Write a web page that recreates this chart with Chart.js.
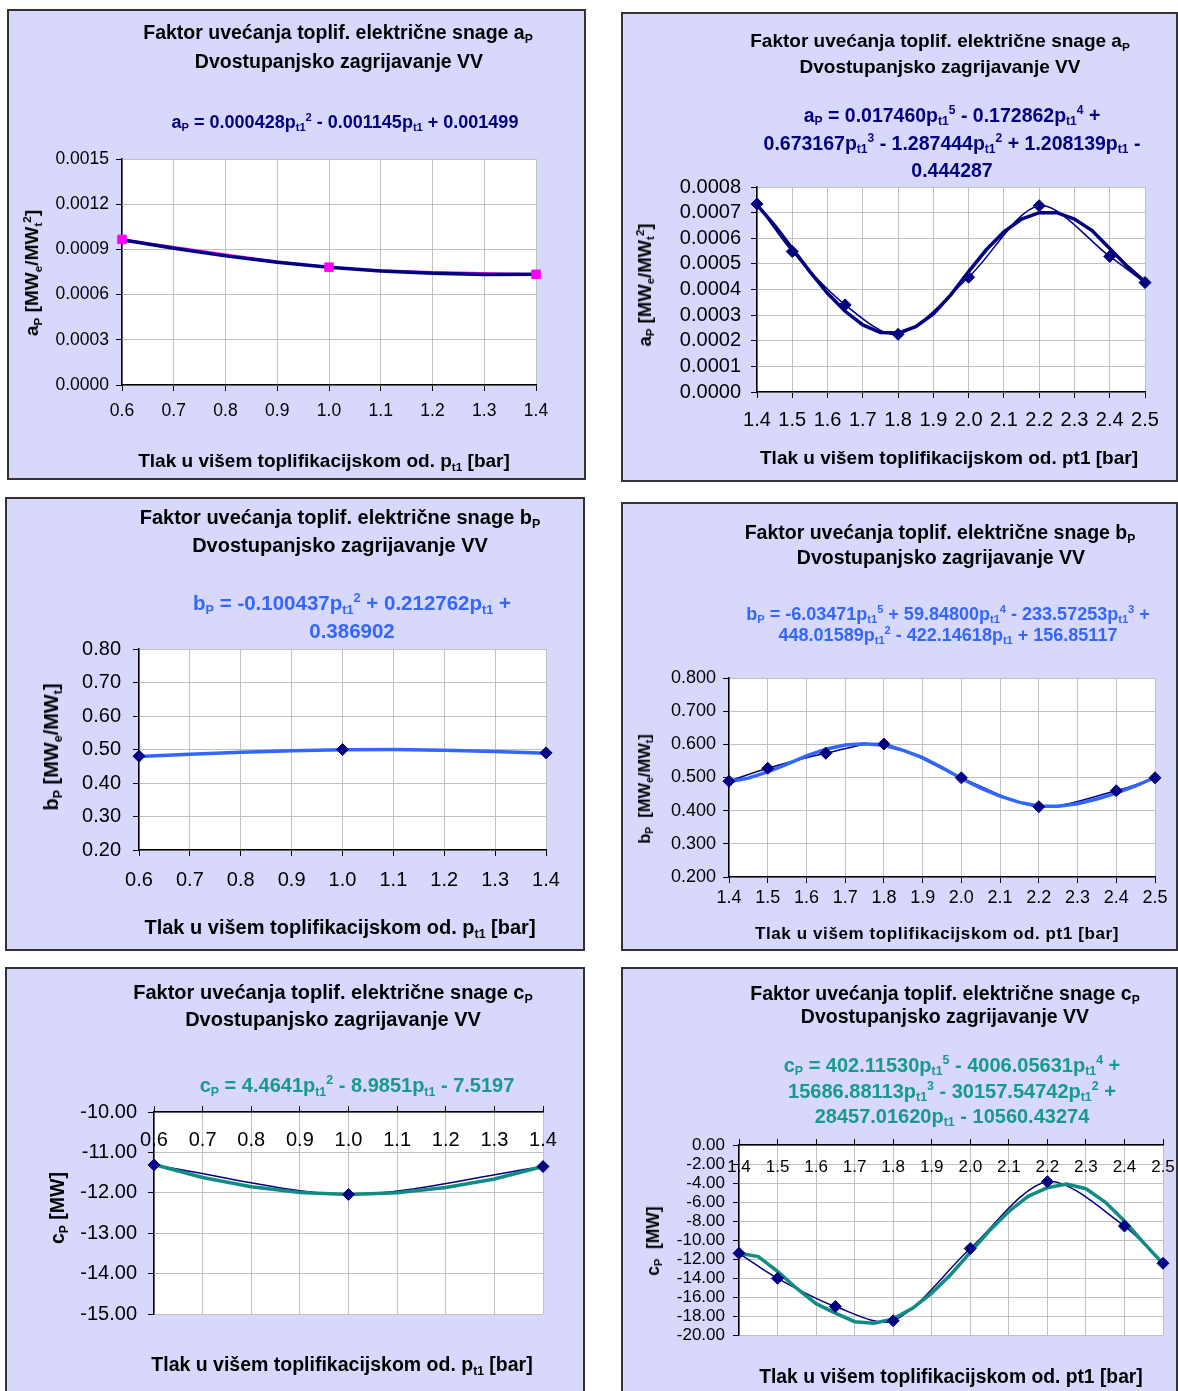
<!DOCTYPE html>
<html>
<head>
<meta charset="utf-8">
<script src="https://cdn.jsdelivr.net/npm/chart.js@4.4.1/dist/chart.umd.min.js"></script>
<style>
    body { margin: 0; width: 1178px; height: 1391px; background: #fff; position: relative; overflow: hidden; font-family: "Liberation Sans", Arial, sans-serif; }
    .panel { position: absolute; box-sizing: border-box; background: #d8d8fc; border: 2px solid #333; }
    canvas { position: absolute; z-index: 1; }
    .t { position: absolute; transform: translate(-50%, -50%); white-space: nowrap; font-weight: bold; font-size: 19px; color: #000; text-align: center; line-height: 28px; z-index: 2; }
    .ylab { transform: translate(-50%, -50%) rotate(-90deg); }
    sub, sup { font-size: 0.62em; line-height: 0; }
    sub { vertical-align: -0.3em; }
    sup { vertical-align: 0.62em; }
    .navy { color: #000080; }
    .blue { color: #3366ff; }
    .teal { color: #159a8c; }
</style>
</head>
<body>
<div class="panel" style="left:7px;top:9px;width:579px;height:471px"></div>
<div class="panel" style="left:621px;top:12px;width:557px;height:470px"></div>
<div class="panel" style="left:5px;top:497px;width:580px;height:454px"></div>
<div class="panel" style="left:621px;top:502px;width:557px;height:449px"></div>
<div class="panel" style="left:5px;top:967px;width:580px;height:430px"></div>
<div class="panel" style="left:621px;top:967px;width:557px;height:430px"></div>

<canvas id="c1"></canvas>
<canvas id="c2"></canvas>
<canvas id="c3"></canvas>
<canvas id="c4"></canvas>
<canvas id="c5"></canvas>
<canvas id="c6"></canvas>

<!-- panel 1 -->
<div class="t" style="left:338px;top:32px;font-size:19.5px">Faktor uvećanja toplif. električne snage a<sub>P</sub></div>
<div class="t" style="left:339px;top:61px;font-size:19.5px">Dvostupanjsko zagrijavanje VV</div>
<div class="t navy" style="left:345px;top:122px;font-size:18px">a<sub>P</sub> = 0.000428p<sub>t1</sub><sup>2</sup> - 0.001145p<sub>t1</sub> + 0.001499</div>
<div class="t" style="left:324px;top:461px">Tlak u višem toplifikacijskom od. p<sub>t1</sub> [bar]</div>
<div class="t ylab" style="left:32px;top:273px">a<sub>P</sub> [MW<sub>e</sub>/MW<sub>t</sub><sup>2</sup>]</div>

<!-- panel 2 -->
<div class="t" style="left:940px;top:41px">Faktor uvećanja toplif. električne snage a<sub>P</sub></div>
<div class="t" style="left:940px;top:67px">Dvostupanjsko zagrijavanje VV</div>
<div class="t navy" style="left:952px;top:143px;font-size:19.5px;line-height:27.5px">a<sub>P</sub> = 0.017460p<sub>t1</sub><sup>5</sup> - 0.172862p<sub>t1</sub><sup>4</sup> +<br>0.673167p<sub>t1</sub><sup>3</sup> - 1.287444p<sub>t1</sub><sup>2</sup> + 1.208139p<sub>t1</sub> -<br>0.444287</div>
<div class="t" style="left:949px;top:458px">Tlak u višem toplifikacijskom od. pt1 [bar]</div>
<div class="t ylab" style="left:645px;top:285px;font-size:18.5px">a<sub>P</sub> [MW<sub>e</sub>/MW<sub>t</sub><sup>2</sup>]</div>

<!-- panel 3 -->
<div class="t" style="left:340px;top:517px;font-size:20px">Faktor uvećanja toplif. električne snage b<sub>P</sub></div>
<div class="t" style="left:340px;top:545px;font-size:20px">Dvostupanjsko zagrijavanje VV</div>
<div class="t blue" style="left:352px;top:617px;font-size:20.5px">b<sub>P</sub> = -0.100437p<sub>t1</sub><sup>2</sup> + 0.212762p<sub>t1</sub> +<br>0.386902</div>
<div class="t" style="left:340px;top:927px;font-size:20px">Tlak u višem toplifikacijskom od. p<sub>t1</sub> [bar]</div>
<div class="t ylab" style="left:51px;top:747px;font-size:20px">b<sub>P</sub> [MW<sub>e</sub>/MW<sub>t</sub>]</div>

<!-- panel 4 -->
<div class="t" style="left:940px;top:532px;font-size:19.5px">Faktor uvećanja toplif. električne snage b<sub>P</sub></div>
<div class="t" style="left:941px;top:557px;font-size:19.5px">Dvostupanjsko zagrijavanje VV</div>
<div class="t blue" style="left:948px;top:625px;font-size:18px;line-height:21px">b<sub>P</sub> = -6.03471p<sub>t1</sub><sup>5</sup> + 59.84800p<sub>t1</sub><sup>4</sup> - 233.57253p<sub>t1</sub><sup>3</sup> +<br>448.01589p<sub>t1</sub><sup>2</sup> - 422.14618p<sub>t1</sub> + 156.85117</div>
<div class="t" style="left:937px;top:934px;font-size:17px;letter-spacing:0.6px">Tlak u višem toplifikacijskom od. pt1 [bar]</div>
<div class="t ylab" style="left:644px;top:789px;font-size:16.5px">b<sub>P</sub> &nbsp;[MW<sub>e</sub>/MW<sub>t</sub>]</div>

<!-- panel 5 -->
<div class="t" style="left:333px;top:992px;font-size:20px">Faktor uvećanja toplif. električne snage c<sub>P</sub></div>
<div class="t" style="left:333px;top:1019px;font-size:20px">Dvostupanjsko zagrijavanje VV</div>
<div class="t teal" style="left:357px;top:1085px;font-size:20px">c<sub>P</sub> = 4.4641p<sub>t1</sub><sup>2</sup> - 8.9851p<sub>t1</sub> - 7.5197</div>
<div class="t" style="left:342px;top:1364px;font-size:19.5px">Tlak u višem toplifikacijskom od. p<sub>t1</sub> [bar]</div>
<div class="t ylab" style="left:57px;top:1208px;font-size:19.5px">c<sub>P</sub> [MW]</div>

<!-- panel 6 -->
<div class="t" style="left:945px;top:993px;font-size:19.5px">Faktor uvećanja toplif. električne snage c<sub>P</sub></div>
<div class="t" style="left:945px;top:1016px;font-size:19.5px">Dvostupanjsko zagrijavanje VV</div>
<div class="t teal" style="left:952px;top:1091px;font-size:20px;line-height:25.5px">c<sub>P</sub> = 402.11530p<sub>t1</sub><sup>5</sup> - 4006.05631p<sub>t1</sub><sup>4</sup> +<br>15686.88113p<sub>t1</sub><sup>3</sup> - 30157.54742p<sub>t1</sub><sup>2</sup> +<br>28457.01620p<sub>t1</sub> - 10560.43274</div>
<div class="t" style="left:951px;top:1377px;font-size:19.3px">Tlak u višem toplifikacijskom od. pt1 [bar]</div>
<div class="t ylab" style="left:653px;top:1241px;font-size:17.5px">c<sub>P</sub> &nbsp;[MW]</div>

<script>
// pressure points, low range (0.6 - 1.4 bar) and high range (1.4 - 2.5 bar)
const LOW_X = [0.6, 1.0, 1.4];
const HIGH_X = [1.4, 1.5, 1.65, 1.8, 2.0, 2.2, 2.4, 2.5];
const LOW_TREND_X = [0.6, 0.7, 0.8, 0.9, 1.0, 1.1, 1.2, 1.3, 1.4];
const HIGH_TREND_X = [1.4, 1.45, 1.5, 1.55, 1.6, 1.65, 1.7, 1.75, 1.8, 1.85, 1.9, 1.95,
    2.0, 2.05, 2.1, 2.15, 2.2, 2.25, 2.3, 2.35, 2.4, 2.45, 2.5];

// a_P
const A_LOW = [0.000966, 0.000782, 0.000735];
const A_LOW_TREND = [0.000964, 0.000907, 0.000857, 0.000815, 0.000782, 0.000757, 0.000741, 0.000733, 0.000735];
const A_HIGH = [0.000734, 0.000548, 0.000340, 0.000225, 0.000448, 0.000727, 0.000529, 0.000427];
const A_HIGH_TREND = [0.000730, 0.000650, 0.000560, 0.000470, 0.000385, 0.000315, 0.000262, 0.000232,
    0.000230, 0.000255, 0.000305, 0.000380, 0.000470, 0.000555, 0.000625, 0.000675, 0.000700,
    0.000700, 0.000675, 0.000630, 0.000560, 0.000490, 0.000430];

// b_P
const B_LOW = [0.480, 0.500, 0.490];
const B_LOW_TREND = [0.479, 0.486, 0.492, 0.496, 0.499, 0.500, 0.498, 0.494, 0.489];
const B_HIGH = [0.489, 0.528, 0.573, 0.601, 0.499, 0.412, 0.460, 0.499];
const B_HIGH_TREND = [0.487, 0.498, 0.517, 0.540, 0.565, 0.585, 0.598, 0.602, 0.597, 0.582, 0.560,
    0.530, 0.497, 0.468, 0.444, 0.425, 0.414, 0.413, 0.421, 0.435, 0.453, 0.475, 0.500];

// c_P
const C_LOW = [-11.31, -12.04, -11.35];
const C_LOW_TREND = [-11.30, -11.62, -11.85, -11.99, -12.04, -12.00, -11.87, -11.66, -11.35];
const C_HIGH = [-11.4, -14.03, -17.0, -18.5, -10.9, -3.86, -8.53, -12.45];
const C_HIGH_TREND = [-11.4, -11.75, -13.3, -15.1, -16.7, -17.7, -18.6, -18.75, -18.3, -17.2, -15.6,
    -13.6, -11.3, -9.0, -7.0, -5.4, -4.5, -4.1, -4.6, -6.0, -8.0, -10.3, -12.5];

// tick labels
const LOW_XTICKS = [0.6, 0.7, 0.8, 0.9, 1.0, 1.1, 1.2, 1.3, 1.4];
const HIGH_XTICKS = [1.4, 1.5, 1.6, 1.7, 1.8, 1.9, 2.0, 2.1, 2.2, 2.3, 2.4, 2.5];
const A_LOW_YTICKS = [0, 0.0003, 0.0006, 0.0009, 0.0012, 0.0015];
const A_HIGH_YTICKS = [0, 0.0001, 0.0002, 0.0003, 0.0004, 0.0005, 0.0006, 0.0007, 0.0008];
const B_YTICKS = [0.2, 0.3, 0.4, 0.5, 0.6, 0.7, 0.8];
const C_LOW_YTICKS = [-15, -14, -13, -12, -11, -10];
const C_HIGH_YTICKS = [-20, -18, -16, -14, -12, -10, -8, -6, -4, -2, 0];

const NAVY = "#000080";
const BLUE = "#3366ff";
const TEAL = "#128c82";

const pts = (xs, ys) => xs.map((x, i) => ({ x: x, y: ys[i] }));

const plotBg = {
    id: "plotBg",
    beforeDraw: (chart) => {
        const { ctx, chartArea: a } = chart;
        ctx.save();
        ctx.fillStyle = "#fff";
        ctx.fillRect(a.left, a.top, a.width, a.height);
        ctx.restore();
    },
};

Chart.defaults.font.family = '"Liberation Sans", Arial, sans-serif';
Chart.defaults.color = "#000";

const makeChart = (p) => {
    const canvas = document.getElementById(p.id);
    // canvas is transparent and a bit larger than the panel, so edge labels never squeeze the plot
    const ext = 40;
    const [bx, by, bw, bh] = [p.box[0] - ext, p.box[1] - ext, p.box[2] + 2 * ext, p.box[3] + 2 * ext];
    const [pl, pt, pr, pb] = p.plot;
    canvas.width = bw;
    canvas.height = bh;
    canvas.style.left = bx + "px";
    canvas.style.top = by + "px";
    const yW = 80;
    const xH = p.xTop ? 6 : 20;
    const padding = {
        left: pl - bx - yW,
        right: bx + bw - pr,
        top: p.xTop ? pt - by - xH : pt - by,
        bottom: p.xTop ? by + bh - pb : by + bh - pb - xH,
    };
    const tickList = (arr) => (scale) => {
        scale.ticks = arr.map((v) => ({ value: v }));
    };
    // with mirror on, labels sit at (axis line + gap); gap is measured to the label centre
    const lh = p.font * 1.2;
    const xPad = p.xTop ? p.xGap - lh / 2 : -p.xGap - lh / 2;

    return new Chart(canvas.getContext("2d"), {
        type: "scatter",
        data: {
            datasets: [
                {
                    data: pts(p.x, p.y),
                    showLine: false,
                    pointStyle: p.marker,
                    pointRadius: p.markerSize,
                    backgroundColor: p.markerColor,
                    borderColor: p.markerColor,
                    borderWidth: 1,
                    clip: false,
                    order: 0,
                },
                {
                    data: pts(p.trendX, p.trend),
                    showLine: true,
                    borderColor: p.trendColor,
                    borderWidth: 3.5,
                    pointRadius: 0,
                    tension: 0,
                    clip: false,
                    order: 1,
                },
                {
                    data: pts(p.x, p.y),
                    showLine: true,
                    borderColor: p.lineColor,
                    borderWidth: p.lineWidth,
                    pointRadius: 0,
                    tension: 0.3,
                    clip: false,
                    order: 2,
                },
            ],
        },
        options: {
            responsive: false,
            animation: false,
            devicePixelRatio: 1,
            layout: { padding: padding },
            plugins: { legend: { display: false }, tooltip: { enabled: false } },
            scales: {
                x: {
                    type: "linear",
                    position: p.xTop ? "top" : "bottom",
                    min: p.xTicks[0],
                    max: p.xTicks[p.xTicks.length - 1],
                    afterBuildTicks: tickList(p.xTicks),
                    afterFit: (s) => { s.height = xH; },
                    grid: { color: "#c0c0c0", tickColor: "#000", tickLength: 6 },
                    border: { color: "#000", width: 1.5 },
                    ticks: {
                        // mirror keeps the labels from being clipped to the axis box
                        mirror: true,
                        autoSkip: false,
                        maxRotation: 0,
                        padding: xPad,
                        font: { size: p.font },
                        callback: (v) => v.toFixed(1),
                    },
                },
                y: {
                    type: "linear",
                    min: p.yTicks[0],
                    max: p.yTicks[p.yTicks.length - 1],
                    afterBuildTicks: tickList(p.yTicks),
                    afterFit: (s) => { s.width = yW; },
                    grid: { color: "#c0c0c0", tickColor: "#000", tickLength: 6 },
                    border: { color: "#000", width: 1.5 },
                    ticks: {
                        autoSkip: false,
                        padding: p.yPad,
                        font: { size: p.font },
                        callback: (v) => v.toFixed(p.dec),
                    },
                },
            },
        },
        plugins: [plotBg],
    });
};

document.addEventListener("DOMContentLoaded", () => {
    makeChart({
        id: "c1", box: [7, 9, 579, 471], plot: [122, 159, 536, 385],
        x: LOW_X, y: A_LOW, trendX: LOW_TREND_X, trend: A_LOW_TREND,
        xTicks: LOW_XTICKS, yTicks: A_LOW_YTICKS, dec: 4, font: 17.5, xGap: 26, yPad: 7,
        marker: "rect", markerSize: 6, markerColor: "#ff00ff",
        trendColor: NAVY, lineColor: "#ff00ff", lineWidth: 2,
    });
    makeChart({
        id: "c2", box: [621, 12, 557, 470], plot: [757, 187, 1145, 392],
        x: HIGH_X, y: A_HIGH, trendX: HIGH_TREND_X, trend: A_HIGH_TREND,
        xTicks: HIGH_XTICKS, yTicks: A_HIGH_YTICKS, dec: 4, font: 20, xGap: 28, yPad: 10,
        marker: "rectRot", markerSize: 6, markerColor: NAVY,
        trendColor: NAVY, lineColor: NAVY, lineWidth: 1.5,
    });
    makeChart({
        id: "c3", box: [5, 497, 580, 454], plot: [139, 649, 546, 850],
        x: LOW_X, y: B_LOW, trendX: LOW_TREND_X, trend: B_LOW_TREND,
        xTicks: LOW_XTICKS, yTicks: B_YTICKS, dec: 2, font: 20, xGap: 30, yPad: 12,
        marker: "rectRot", markerSize: 6, markerColor: NAVY,
        trendColor: BLUE, lineColor: NAVY, lineWidth: 1.5,
    });
    makeChart({
        id: "c4", box: [621, 502, 557, 449], plot: [729, 678, 1155, 877],
        x: HIGH_X, y: B_HIGH, trendX: HIGH_TREND_X, trend: B_HIGH_TREND,
        xTicks: HIGH_XTICKS, yTicks: B_YTICKS, dec: 3, font: 18, xGap: 21, yPad: 7,
        marker: "rectRot", markerSize: 6, markerColor: NAVY,
        trendColor: BLUE, lineColor: NAVY, lineWidth: 1.5,
    });
    makeChart({
        id: "c5", box: [5, 967, 580, 430], plot: [154, 1112, 543, 1314], xTop: true,
        x: LOW_X, y: C_LOW, trendX: LOW_TREND_X, trend: C_LOW_TREND,
        xTicks: LOW_XTICKS, yTicks: C_LOW_YTICKS, dec: 2, font: 20, xGap: 28, yPad: 11,
        marker: "rectRot", markerSize: 6, markerColor: NAVY,
        trendColor: TEAL, lineColor: NAVY, lineWidth: 1.5,
    });
    makeChart({
        id: "c6", box: [621, 967, 557, 430], plot: [739, 1145, 1163, 1335], xTop: true,
        x: HIGH_X, y: C_HIGH, trendX: HIGH_TREND_X, trend: C_HIGH_TREND,
        xTicks: HIGH_XTICKS, yTicks: C_HIGH_YTICKS, dec: 2, font: 17, xGap: 22, yPad: 8,
        marker: "rectRot", markerSize: 6, markerColor: NAVY,
        trendColor: TEAL, lineColor: NAVY, lineWidth: 1.5,
    });
});
</script>
</body>
</html>
